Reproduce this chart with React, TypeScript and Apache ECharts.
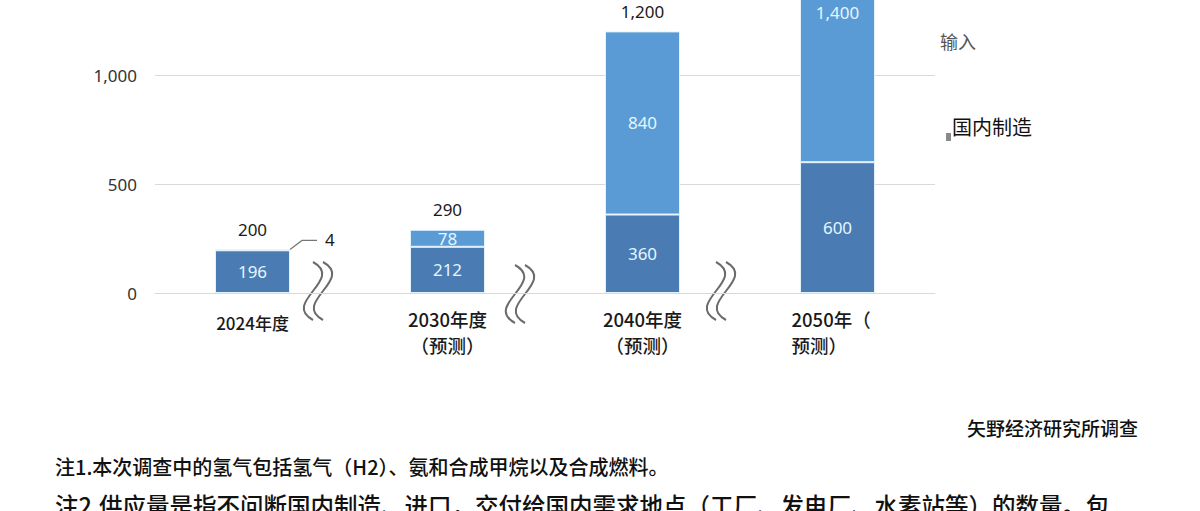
import React, { useEffect, useRef } from "react";
import * as echarts from "echarts";

const categories = ["2024年度", "2030年度\n（预测）", "2040年度\n（预测）", "2050年（\n预测）"];
const domestic = [196, 212, 360, 600];
const imports = [4, 78, 840, 1400];
const totals = [200, 290, 1200, 2000];
const yTicks = [0, 500, 1000];
const legendNames = ["输入", "国内制造"];
const sourceText = "矢野经济研究所调查";
const note1 = "注1.本次调查中的氢气包括氢气（H2）、氨和合成甲烷以及合成燃料。";
const note2 = "注2.供应量是指不问断国内制造、进口，交付给国内需求地点（工厂、发电厂、水素站等）的数量。包";

const DARK = "#4a7cb3";
const LIGHT = "#5b9bd5";
const INNER = "#e4f6ff";
const FONT = "'Noto Sans', 'Noto Sans CJK SC', sans-serif";
const CJK = "'Noto Sans CJK SC', sans-serif";

function wave(cx: number, y0: number) {
  const h = 58;
  const mk = (x: number) => ({
    type: "bezierCurve",
    shape: { x1: x, y1: y0, cpx1: x + 32, cpy1: y0 + h * 0.3, cpx2: x - 32, cpy2: y0 + h * 0.7, x2: x, y2: y0 + h },
    style: { stroke: "#6b6b6b", lineWidth: 2, fill: null },
    silent: true,
  });
  return [mk(cx - 5), mk(cx + 5)];
}

export default function App() {
  const ref = useRef<HTMLDivElement>(null);
  useEffect(() => {
    if (!ref.current) return;
    const chart = echarts.init(ref.current, undefined, { renderer: "svg" });
    const option: any = {
      animation: false,
      grid: { left: 155, right: 265, top: -143, bottom: 218, containLabel: false, outerBoundsMode: "none" },
      xAxis: {
        type: "category",
        data: categories,
        axisLine: { show: true, lineStyle: { color: "#d9d9d9", width: 1 } },
        axisTick: { show: false },
        axisLabel: {
          margin: 13,
          interval: 0,
          color: "#1a1a1a",
          fontFamily: CJK,
          fontSize: 18.5,
          fontWeight: 500,
          lineHeight: 26,
          formatter: (v: string, i: number) => {
            if (i === 0) return "{s|" + v + "}";
            if (i === 3) return v.split("\n").map((l) => "{l|" + l + "}").join("\n");
            return v;
          },
          rich: {
            s: { fontSize: 17, fontFamily: CJK, color: "#1a1a1a", padding: [6, 0, 0, 0] },
            l: { fontSize: 18.5, fontWeight: 500, fontFamily: CJK, color: "#1a1a1a", width: 92, align: "left", lineHeight: 26 },
          },
        },
      },
      yAxis: {
        type: "value",
        min: 0,
        max: 2000,
        interval: 500,
        axisLine: { show: false },
        axisTick: { show: false },
        splitLine: { lineStyle: { color: "#d9d9d9", width: 1 } },
        axisLabel: {
          margin: 18,
          color: "#333",
          fontFamily: FONT,
          fontSize: 17,
          formatter: (v: number) => (yTicks.indexOf(v) >= 0 ? v.toLocaleString("en-US") : ""),
        },
      },
      series: [
        {
          name: legendNames[1],
          type: "bar",
          stack: "a",
          barWidth: 75,
          clip: false,
          data: domestic,
          itemStyle: { color: DARK, borderColor: "#e3f3fc", borderWidth: 1 },
          label: { show: true, position: "inside", color: INNER, fontFamily: FONT, fontSize: 17 },
        },
        {
          name: legendNames[0],
          type: "bar",
          stack: "a",
          barWidth: 75,
          clip: false,
          data: imports.map((v, i) =>
            i === 0
              ? { value: v, label: { position: "right", offset: [30, -10], color: "#1a1a1a", fontSize: 17 } }
              : i === 3
              ? { value: v, label: { offset: [0, 3] } }
              : v
          ),
          itemStyle: { color: LIGHT, borderColor: "#e3f3fc", borderWidth: 1 },
          label: {
            show: true,
            position: "inside",
            color: INNER,
            fontFamily: FONT,
            fontSize: 17,
            formatter: (p: any) => Number(p.value).toLocaleString("en-US"),
          },
        },
        {
          name: "合计",
          type: "line",
          data: totals.map((v, i) => (i === 3 ? { value: v, label: { show: false } } : v)),
          symbol: "circle",
          symbolSize: 1,
          itemStyle: { color: "rgba(0,0,0,0)" },
          lineStyle: { opacity: 0 },
          silent: true,
          label: {
            show: true,
            position: "top",
            distance: 11,
            color: "#1a1a1a",
            fontFamily: FONT,
            fontSize: 17,
            formatter: (p: any) => Number(p.value).toLocaleString("en-US"),
          },
        },
      ],
    };
    chart.setOption(option);

    const p = chart.convertToPixel({ xAxisIndex: 0, yAxisIndex: 0 }, [0, totals[0]]) as number[];
    const right = p[0] + 37.5;
    const graphics: any[] = [
      {
        type: "polyline",
        shape: { points: [[right, p[1]], [right + 12, p[1] - 9], [right + 27, p[1] - 9]] },
        style: { stroke: "#777", lineWidth: 1.2, fill: null },
        silent: true,
      },
      ...wave(318, 262),
      ...wave(520, 265),
      ...wave(721, 262),
      {
        type: "text",
        left: 940,
        top: 32,
        style: { text: legendNames[0], fill: "#555", font: "18px " + CJK },
      },
      {
        type: "rect",
        shape: { x: 946, y: 133, width: 5, height: 8 },
        style: { fill: "#8a8a8a" },
      },
      {
        type: "text",
        left: 952,
        top: 116,
        style: { text: legendNames[1], fill: "#111", font: "20px " + CJK },
      },
      {
        type: "text",
        right: 62,
        top: 418,
        style: { text: sourceText, fill: "#111", font: "500 19px " + CJK },
      },
      {
        type: "text",
        left: 55,
        top: 456,
        style: { text: note1, fill: "#111", font: "500 20px " + CJK },
      },
      {
        type: "text",
        left: 55,
        top: 493,
        style: { text: note2, fill: "#111", font: "500 23.5px " + CJK },
      },
    ];
    chart.setOption({ graphic: graphics });
    return () => chart.dispose();
  }, []);
  return (
    <div
      ref={ref}
      style={{ position: "fixed", left: 0, top: 0, width: 1200, height: 511, background: "#fff" }}
    />
  );
}
